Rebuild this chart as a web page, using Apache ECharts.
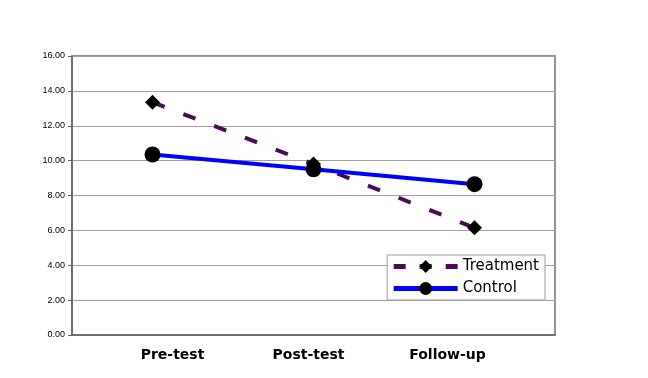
<!DOCTYPE html>
<html>
<head>
<meta charset="utf-8">
<script src="https://cdn.jsdelivr.net/npm/echarts@6/dist/echarts.min.js"></script>
<style>
  html, body { margin: 0; padding: 0; background: #fff; }
  #chart { width: 648px; height: 378px; }
</style>
</head>
<body>
<div id="chart"></div>
<script>
// data
const categories = ['Pre-test', 'Post-test', 'Follow-up']
const treatment = [13.35, 9.8, 6.15]
const control = [10.35, 9.5, 8.65]
const yTicks = [0, 2, 4, 6, 8, 10, 12, 14, 16]

// labels sit a bit off the category centres in the original
const labelPad = {
  'Pre-test': [0, 0, 0, 40],
  'Post-test': [0, 10, 0, 0],
  'Follow-up': [0, 54, 0, 0]
}
const labelRich = {}
categories.forEach((c, i) => {
  labelRich['c' + i] = {
    fontFamily: 'DejaVu Sans',
    fontWeight: 'bold',
    fontSize: 14,
    color: '#000',
    padding: labelPad[c]
  }
})

const chart = echarts.init(document.getElementById('chart'))

const option = {
  animation: false,
  grid: {
    left: 72, top: 56, right: 93, bottom: 43,
    show: true,
    borderColor: '#707070',
    borderWidth: 1.5
  },
  legend: {
    data: [
      {
        name: 'Treatment',
        itemStyle: { color: '#000' },
        lineStyle: { color: '#4b0a55', width: 5, type: [12, 14] }
      },
      {
        name: 'Control',
        itemStyle: { color: '#000' },
        lineStyle: { color: '#0000ff', width: 5 }
      }
    ],
    orient: 'vertical',
    right: 103,
    top: 255,
    backgroundColor: '#fff',
    borderColor: '#999',
    borderWidth: 1,
    borderRadius: 0,
    padding: [4, 6, 4, 4],
    itemGap: 7,
    itemWidth: 64,
    itemHeight: 16,
    textStyle: { fontFamily: 'DejaVu Sans', fontSize: 15, color: '#000' }
  },
  xAxis: {
    type: 'category',
    data: categories,
    boundaryGap: true,
    axisLine: { lineStyle: { color: '#606060', width: 1.5 } },
    axisTick: { show: false },
    axisLabel: {
      margin: 13,
      formatter: (v, i) => '{c' + i + '|' + v + '}',
      rich: labelRich
    }
  },
  yAxis: {
    type: 'value',
    min: yTicks[0],
    max: yTicks[yTicks.length - 1],
    interval: 2,
    axisLine: { show: true, lineStyle: { color: '#606060', width: 1.5 } },
    axisTick: { show: true, length: 4, lineStyle: { color: '#606060' } },
    splitLine: { lineStyle: { color: '#a0a0a0', width: 1 } },
    axisLabel: {
      margin: 7,
      color: '#000',
      fontFamily: 'Liberation Sans, Arial',
      fontSize: 9,
      formatter: v => v.toFixed(2)
    }
  },
  series: [
    {
      name: 'Treatment',
      type: 'line',
      data: treatment,
      symbol: 'diamond',
      symbolSize: 15,
      itemStyle: { color: '#000' },
      lineStyle: { color: '#4b0a55', width: 4, type: [13, 20] },
      z: 3
    },
    {
      name: 'Control',
      type: 'line',
      data: control,
      symbol: 'circle',
      symbolSize: 16,
      itemStyle: { color: '#000' },
      lineStyle: { color: '#0000ff', width: 4 },
      z: 4
    }
  ]
}

chart.setOption(option)
</script>
</body>
</html>
